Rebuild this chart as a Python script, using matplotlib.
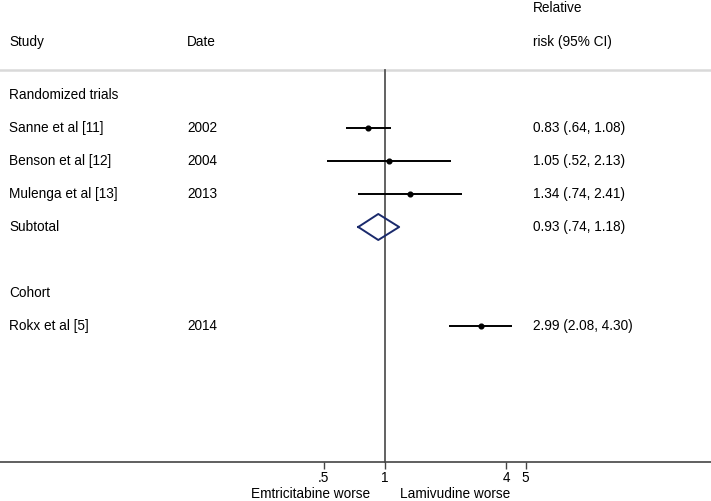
import matplotlib
matplotlib.use("Agg")
import matplotlib.pyplot as plt
import matplotlib.transforms as mtransforms

plt.rcParams['font.family'] = ['Liberation Sans', 'DejaVu Sans']

# ---- data ----
groups = ["Randomized trials", "Cohort"]
studies = ["Sanne et al [11]", "Benson et al [12]", "Mulenga et al [13]", "Rokx et al [5]"]
dates = ["2002", "2004", "2013", "2014"]
rr = [0.83, 1.05, 1.34, 2.99]
lo = [0.64, 0.52, 0.74, 2.08]
hi = [1.08, 2.13, 2.41, 4.30]
subtotal = (0.93, 0.74, 1.18)
xticks = [0.5, 1, 4, 5]
xticklabels = [".5", "1", "4", "5"]


def fmt(v):
    s = f"{v:.2f}"
    return s[1:] if s.startswith("0.") else s


def ci_label(r, l, h):
    return f"{r:.2f} ({fmt(l)}, {fmt(h)})"


W, H = 711, 501
fig = plt.figure(figsize=(W / 100, H / 100), dpi=100)
axis_y = 462
ax = fig.add_axes([0, (H - axis_y) / H, 1, axis_y / H])
ax.set_xscale('log')
ax.set_xlim(0.01239, 41.5)
ax.set_ylim(axis_y, 0)

# row layout (pixel rows)
row0 = 95
step = 33
y_group = [row0, row0 + 6 * step]
y_study = [row0 + 1 * step, row0 + 2 * step, row0 + 3 * step, row0 + 7 * step]
y_sub = row0 + 4 * step

fs = 9.8
tx = mtransforms.blended_transform_factory(fig.transFigure, ax.transData)
col_study = 9 / W
col_date = 187 / W
col_ci = 533 / W

# headers
ax.text(col_study, 42, "Study", transform=tx, fontsize=fs, va='center', ha='left')
ax.text(col_date, 42, "Date", transform=tx, fontsize=fs, va='center', ha='left')
ax.text(col_ci, 8, "Relative", transform=tx, fontsize=fs, va='center', ha='left')
ax.text(col_ci, 42, "risk (95% CI)", transform=tx, fontsize=fs, va='center', ha='left')

# top separator line
ax.axhline(70, color='#d9d9d9', lw=1.8, zorder=1)

# null line
ax.plot([1, 1], [70, axis_y], color='#555555', lw=1.3, zorder=2, clip_on=False)

for g, y in zip(groups, y_group):
    ax.text(col_study, y, g, transform=tx, fontsize=fs, va='center', ha='left')

for s, d, r, l, h, y in zip(studies, dates, rr, lo, hi, y_study):
    ax.text(col_study, y, s, transform=tx, fontsize=fs, va='center', ha='left')
    ax.text(col_date, y, d, transform=tx, fontsize=fs, va='center', ha='left')
    ax.plot([l, h], [y, y], color='black', lw=1.4, zorder=3, solid_capstyle='butt')
    ax.plot([r], [y], marker='o', ms=3.4, color='black', zorder=4)
    ax.text(col_ci, y, ci_label(r, l, h), transform=tx, fontsize=fs, va='center', ha='left')

# subtotal
ax.text(col_study, y_sub, "Subtotal", transform=tx, fontsize=fs, va='center', ha='left')
s_est, s_lo, s_hi = subtotal
dh = 13
ax.plot([s_lo, s_est, s_hi, s_est, s_lo], [y_sub, y_sub - dh, y_sub, y_sub + dh, y_sub],
        color='#1a2a6c', lw=1.4, zorder=4)
ax.text(col_ci, y_sub, ci_label(s_est, s_lo, s_hi), transform=tx, fontsize=fs, va='center', ha='left')

# axis
for sp in ['top', 'left', 'right']:
    ax.spines[sp].set_visible(False)
ax.spines['bottom'].set_color('#444444')
ax.spines['bottom'].set_linewidth(1.2)
ax.set_yticks([])
ax.set_xticks(xticks)
ax.set_xticklabels(xticklabels)
ax.minorticks_off()
ax.tick_params(axis='x', length=5, width=1.0, color='#444444', labelsize=fs, pad=1.5)

bt = mtransforms.blended_transform_factory(ax.transData, fig.transFigure)
ax.text(0.431, 1 - 498 / H, "Emtricitabine worse", transform=bt, fontsize=fs, ha='center', va='baseline', clip_on=False)
ax.text(2.23, 1 - 498 / H, "Lamivudine worse", transform=bt, fontsize=fs, ha='center', va='baseline', clip_on=False)

fig.savefig("out.png", dpi=100)
